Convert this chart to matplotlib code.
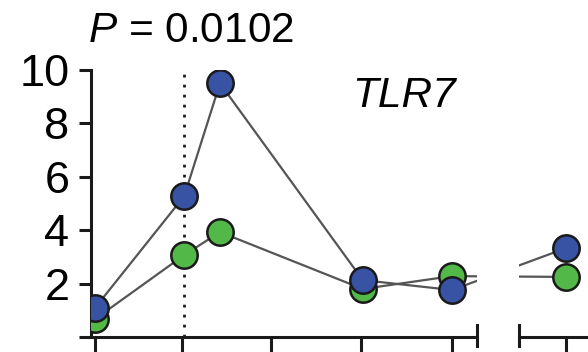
import matplotlib.pyplot as plt

plt.rcParams['font.family'] = ['Liberation Sans', 'DejaVu Sans']
plt.rcParams['mathtext.fontset'] = 'custom'
plt.rcParams['mathtext.it'] = 'Liberation Sans:italic'
plt.rcParams['mathtext.rm'] = 'Liberation Sans'

# valores
tempo = [0, 1, 1.4, 3, 4, 5.28]
azul = [1.09, 5.28, 9.5, 2.13, 1.76, 3.33]
verde = [0.67, 3.07, 3.93, 1.8, 2.28, 2.25]
ticks_esq = [0, 0.97, 1.97, 2.98, 4.0]
ticks_dir = [5.28]
yticks = [0, 2, 4, 6, 8, 10]
ylabels = ['', '2', '4', '6', '8', '10']

W, H = 588, 352
fig = plt.figure(figsize=(W / 100, H / 100), dpi=100)

# eixo esquerdo e eixo direito (eixo x quebrado)
ax1 = fig.add_axes([91 / W, 1 - 337 / H, (477 - 91) / W, (337 - 70) / H])
ax2 = fig.add_axes([519 / W, 1 - 337 / H, (640 - 519) / W, (337 - 70) / H])

cor_linha = '#555555'
for ax in (ax1, ax2):
    ax.plot(tempo, verde, color=cor_linha, lw=1.6, zorder=2)
    ax.plot(tempo, azul, color=cor_linha, lw=1.6, zorder=2)
    ax.plot(tempo, verde, 'o', ms=19, mfc='#52b848', mec='#1a1a1a', mew=1.8, zorder=3)
    ax.plot(tempo, azul, 'o', ms=19, mfc='#3852a4', mec='#1a1a1a', mew=1.8, zorder=4)
    ax.set_ylim(0, 10)
    ax.spines['top'].set_visible(False)
    ax.spines['right'].set_visible(False)
    for s in ax.spines.values():
        s.set_linewidth(2.2)
        s.set_color('#1a1a1a')
    ax.tick_params(axis='x', direction='out', length=14, width=2.2, color='#1a1a1a',
                   labelbottom=False)
    ax.patch.set_alpha(0)

ax1.set_xlim(-0.045, 4.28)
ax2.set_xlim(4.75, 6.11)
ax1.set_xticks(ticks_esq)
ax2.set_xticks(ticks_dir)

ax1.axvline(1, color='#1a1a1a', lw=2, linestyle=(0, (1, 2.6)), zorder=1)

ax1.set_yticks(yticks)
ax1.set_yticklabels(ylabels)
ax1.tick_params(axis='y', direction='out', length=8.6, width=2.2, color='#1a1a1a',
                labelsize=32.5, pad=7)
ax2.spines['left'].set_visible(False)
ax2.tick_params(axis='y', left=False, labelleft=False)

# marcas da quebra do eixo
ax1.plot([1, 1], [-0.034, 0.045], transform=ax1.transAxes, color='#1a1a1a',
         lw=2.2, clip_on=False)
ax2.plot([0, 0], [-0.034, 0.045], transform=ax2.transAxes, color='#1a1a1a',
         lw=2.2, clip_on=False)

fig.text(88 / W, 1 - 42 / H, r'$P$ = 0.0102', fontsize=30.5, ha='left', va='baseline')
fig.text(352 / W, 1 - 107 / H, 'TLR7', fontsize=30.5, style='italic', ha='left',
         va='baseline')

fig.savefig('out.png', dpi=100)
